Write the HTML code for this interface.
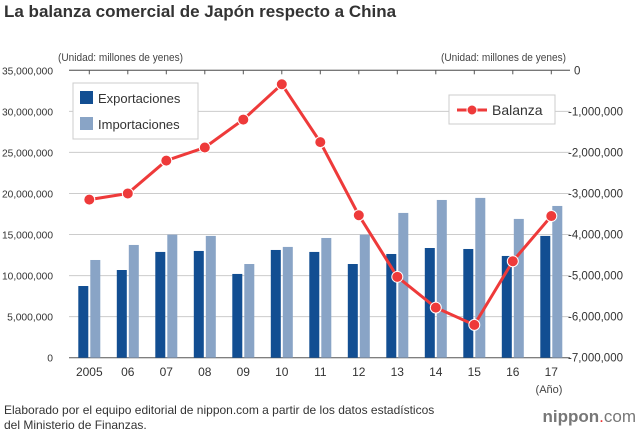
<!DOCTYPE html>
<html><head><meta charset="utf-8"><style>
body{margin:0;width:640px;height:432px;background:#fff;font-family:"Liberation Sans",sans-serif;overflow:hidden}
</style></head><body>
<svg id="c" width="640" height="432" xmlns="http://www.w3.org/2000/svg" font-family="Liberation Sans, sans-serif">
<text x="4" y="17" font-size="17" font-weight="bold" fill="#333">La balanza comercial de Japón respecto a China</text>
<text x="58" y="61" font-size="11" fill="#444" textLength="125" lengthAdjust="spacingAndGlyphs">(Unidad: millones de yenes)</text>
<text x="441" y="61" font-size="11" fill="#444" textLength="125" lengthAdjust="spacingAndGlyphs">(Unidad: millones de yenes)</text>
<g id="grid"></g><g id="bars"></g><g id="line"></g><g id="axes"></g>
<g>
<rect x="73" y="83" width="125" height="56" fill="#fff" stroke="#ccc"/>
<rect x="80" y="91" width="13" height="13" fill="#124e92"/>
<text x="98" y="103" font-size="13" fill="#333">Exportaciones</text>
<rect x="80" y="117" width="13" height="13" fill="#89a4c6"/>
<text x="98" y="129" font-size="13" fill="#333">Importaciones</text>
</g>
<g>
<rect x="449" y="95" width="106" height="29" fill="#fff" stroke="#ccc"/>
<line x1="457" y1="110" x2="487" y2="110" stroke="#ee3a3a" stroke-width="3"/>
<circle cx="472" cy="110" r="5" fill="#ee3a3a" stroke="#fff"/>
<text x="492" y="115" font-size="14" fill="#333">Balanza</text>
</g>
<text x="549" y="393" font-size="11" fill="#444" text-anchor="middle">(Año)</text>
<text x="4" y="414" font-size="12" fill="#333">Elaborado por el equipo editorial de nippon.com a partir de los datos estadísticos</text>
<text x="4" y="429" font-size="12" fill="#333">del Ministerio de Finanzas.</text>
<text x="636" y="422" font-size="17" fill="#777" text-anchor="end"><tspan font-weight="bold">nippon</tspan><tspan fill="#e33">.</tspan>com</text>
</svg>
<script>
const categories=["2005","06","07","08","09","10","11","12","13","14","15","16","17"];
const exportsVals=[8.73,10.68,12.88,13.0,10.2,13.12,12.88,11.41,12.63,13.36,13.24,12.39,14.83];
const importsVals=[11.9,13.73,14.99,14.83,11.41,13.49,14.58,14.99,17.63,19.21,19.46,16.9,18.48];
const balanceVals=[-3.15,-3.0,-2.2,-1.88,-1.2,-0.34,-1.75,-3.53,-5.03,-5.78,-6.2,-4.65,-3.55];
const leftTicks=[0,5,10,15,20,25,30,35];
const leftTickLabels=["0","5,000,000","10,000,000","15,000,000","20,000,000","25,000,000","30,000,000","35,000,000"];
const rightTicks=[0,-1,-2,-3,-4,-5,-6,-7];
const rightTickLabels=["0","-1,000,000","-2,000,000","-3,000,000","-4,000,000","-5,000,000","-6,000,000","-7,000,000"];
const NS="http://www.w3.org/2000/svg";
const plotTop=70.3,plotBot=357.7,plotL=69,plotR=570;
const yL=v=>plotBot-(v/35)*(plotBot-plotTop);
const yR=v=>plotTop+(-v/7)*(plotBot-plotTop);
const xC=i=>89.3+i*38.5;
function mk(p,t,a){const e=document.createElementNS(NS,t);for(const k in a)e.setAttribute(k,a[k]);document.getElementById(p).appendChild(e);return e;}
leftTicks.forEach((t,i)=>{
 const g=mk('grid','line',{x1:plotL,x2:plotR,y1:yL(t),y2:yL(t),stroke:i==0?'#555':'#ccc'});
 
 
 const lab=leftTickLabels[i];
 const attrs={x:53,y:yL(t)+4,'font-size':10.3,fill:'#333','text-anchor':'end'};
 if(lab.length>1){attrs.textLength=lab.length*5.1;attrs.lengthAdjust='spacingAndGlyphs';}
 const tx=mk('axes','text',attrs);
 tx.textContent=lab;
 
 
});
rightTicks.forEach((t,i)=>{
 const tx=mk('axes','text',{x:i==0?574:568,y:yR(t)+4,'font-size':11.5,fill:'#333'});
 tx.textContent=rightTickLabels[i];
 
 
});
mk('axes','line',{x1:plotL,x2:plotR,y1:plotTop,y2:plotTop,stroke:'#555'});
categories.forEach((c,i)=>{
 mk('axes','line',{x1:xC(i),x2:xC(i),y1:plotTop,y2:plotTop+4,stroke:'#555'});
 const tx=mk('axes','text',{x:xC(i),y:376,'font-size':12,fill:'#333','text-anchor':'middle'});
 tx.textContent=c;
 
 
 const b1=mk('bars','rect',{x:xC(i)-11,y:yL(exportsVals[i]),width:10,height:plotBot-yL(exportsVals[i]),fill:'#124e92'});
 
 
 const b2=mk('bars','rect',{x:xC(i)+1,y:yL(importsVals[i]),width:10,height:plotBot-yL(importsVals[i]),fill:'#89a4c6'});
 
 
});
const pl=mk('line','polyline',{points:balanceVals.map((v,i)=>xC(i)+','+yR(v)).join(' '),fill:'none',stroke:'#ee3a3a','stroke-width':3});


balanceVals.forEach((v,i)=>{
 const c=mk('line','circle',{cx:xC(i),cy:yR(v),r:5.5,fill:'#ee3a3a',stroke:'#fff','stroke-width':1});
 
 
});
</script>
</body></html>
